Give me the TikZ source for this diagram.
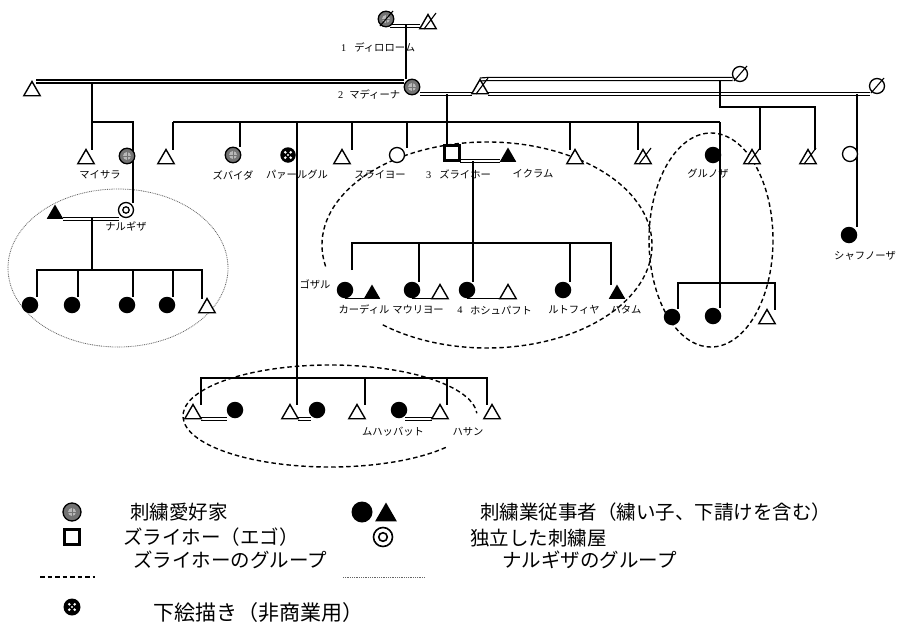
\documentclass[tikz,border=0pt]{standalone}
\usepackage{fontspec}
\setmainfont{Liberation Serif}
\newfontfamily\jp{Noto Sans CJK JP}
\usetikzlibrary{shapes.geometric,backgrounds,calc}
\begin{document}
\begin{tikzpicture}[x=1pt,y=-1pt,
  ln/.style={line width=1.4pt},
  dbl/.style={double, double distance=1.8pt, line width=1.2pt},
  grp/.style={dash pattern=on 4.5pt off 3pt, line width=1.4pt},
  ngrp/.style={dash pattern=on 0.9pt off 0.9pt, line width=0.8pt, black!60},
  slashln/.style={line width=1.1pt},
  sym/.style={inner sep=0pt, outer sep=0pt},
  fc/.style={sym, circle, fill=black, minimum size=16.5pt},
  oc/.style={sym, circle, draw, line width=1.3pt, fill=white, minimum size=15pt},
  sc/.style={sym, circle, draw, line width=1.3pt, fill=black!55, minimum size=15.5pt,
    path picture={\fill[black!28] (path picture bounding box.center) circle (4pt);
      \draw[black!55, line width=0.45pt] ($(path picture bounding box.center)+(-4.2pt,0pt)$) -- ++(8.4pt,0pt)
        ($(path picture bounding box.center)+(0pt,-4.2pt)$) -- ++(0pt,8.4pt);}},
  pc/.style={sym, circle, fill=black, minimum size=15.5pt,
    path picture={\foreach \a in {45,135,225,315}
      \fill[white] ($(path picture bounding box.center)+(\a:3.8pt)$) circle (1.45pt);
      \fill[white] (path picture bounding box.center) circle (1.1pt);}},
  dc/.style={sym, circle, draw, line width=1.3pt, fill=white, minimum size=15pt,
    path picture={\draw[line width=1.3pt] (path picture bounding box.center) circle (3.2pt);}},
  dcL/.style={sym, circle, draw, line width=1.6pt, fill=white, minimum size=19pt,
    path picture={\draw[line width=1.6pt] (path picture bounding box.center) circle (4.3pt);}},
  tri/.style={sym, regular polygon, regular polygon sides=3, minimum size=19pt},
  ot/.style={tri, draw, line width=1.4pt, fill=white},
  ft/.style={tri, fill=black},
  sq/.style={sym, rectangle, draw, line width=2.8pt, fill=white, minimum size=15pt},
  lb/.style={font=\jp\fontsize{10.3}{12}\selectfont, inner sep=0pt},
  lg/.style={font=\jp\fontsize{19.5}{23}\selectfont, inner sep=0pt, anchor=west}
]
\useasboundingbox (0,0) rectangle (905,624);

% ---------- top generations ----------
\node[sc] (dw) at (386,19) {};
\node[ot] (dm) at (428,24) {};
\node[sc] (md) at (412,87) {};
\node[ot] (h1) at (32,91) {};
\node[ot] (h2) at (480,89) {};
\node[oc] (w3) at (740,74) {};
\node[oc] (w4) at (877,86) {};
\node[lb, anchor=west] (l1) at (341,48) {{\rmfamily 1}\hspace{8pt}ディロローム};
\node[lb, anchor=west] (l2) at (338,95) {{\rmfamily 2}\hspace{6pt}マディーナ};

% ---------- children row ----------
\node[ot] (mys) at (86,159) {};
\node[sc] (sis) at (127,156) {};
\node[ot] (t1) at (166,159) {};
\node[sc] (zbd) at (233,155) {};
\node[pc] (prg) at (288,155) {};
\node[ot] (t2) at (342,159) {};
\node[oc] (sly) at (397,155) {};
\node[sq] (ego) at (452,153) {};
\node[ft] (ikr) at (508,157) {};
\node[ot] (t3) at (575,159) {};
\node[ot] (t4) at (643,159) {};
\node[fc] (grn) at (713,155) {};
\node[ot] (t5) at (752,159) {};
\node[ot] (t6) at (808,159) {};
\node[oc] (c7) at (850,154) {};
\node[fc] (shf) at (849,235) {};

\node[lb] (lmys) at (100,175) {マイサラ};
\node[lb] (lzbd) at (233,175) {ズバイダ};
\node[lb] (lprg) at (297,175) {パァールグル};
\node[lb] (lsly) at (380,175) {スライヨー};
\node[lb, anchor=west] (lego) at (426,174) {{\rmfamily 3}\hspace{8pt}ズライホー};
\node[lb] (likr) at (533,174) {イクラム};
\node[lb] (lgrn) at (708,174) {グルノザ};
\node[lb] (lshf) at (865,256) {シャフノーザ};

% ---------- Narugiza group ----------
\node[dc] (nrg) at (126,210) {};
\node[ft] (nh) at (55,214) {};
\node[lb] (lnrg) at (126,226) {ナルギザ};
\node[fc] (n1) at (30,305) {};
\node[fc] (n2) at (72,305) {};
\node[fc] (n3) at (127,305) {};
\node[fc] (n4) at (167,305) {};
\node[ot] (n5) at (207,308) {};

% ---------- Zulaikho's children ----------
\node[fc] (kdl) at (345,290) {};
\node[ft] (kdh) at (372,294) {};
\node[fc] (mwr) at (412,290) {};
\node[ot] (mwh) at (440,294) {};
\node[fc] (hsh) at (467,290) {};
\node[ot] (hsw) at (508,294) {};
\node[fc] (ltf) at (563,290) {};
\node[ft] (htm) at (617,294) {};
\node[lb] (lgzl) at (315,284) {ゴザル};
\node[lb] (lkdl) at (364,310) {カーディル};
\node[lb] (lmwr) at (418,310) {マウリヨー};
\node[lb] (l4) at (460,310) {{\rmfamily 4}};
\node[lb] (lhsh) at (501,310) {ホシュパフト};
\node[lb] (lltf) at (574,310) {ルトフィヤ};
\node[lb] (lhtm) at (626,310) {ハタム};

% ---------- Gulnoza's children ----------
\node[fc] (g1) at (672,317) {};
\node[fc] (g2) at (713,316) {};
\node[ot] (g3) at (767,319) {};

% ---------- Parvargul's children ----------
\node[ot] (p1) at (193,414) {};
\node[fc] (p1w) at (235,410) {};
\node[ot] (p2) at (290,414) {};
\node[fc] (p2w) at (317,410) {};
\node[ot] (p3) at (357,414) {};
\node[fc] (p4w) at (399,410) {};
\node[ot] (p4) at (440,414) {};
\node[ot] (p5) at (492,414) {};
\node[lb] (lp4) at (393,432) {ムハッバット};
\node[lb] (lp5) at (468,432) {ハサン};

% ---------- slashes ----------
\foreach \n in {dm,h2,t4,t5,t6} \draw[slashln] ($(\n)+(-4,5)$) -- ($(\n)+(8,-11)$);
\foreach \n in {dw,w3,w4} \draw[slashln] ($(\n)+(-6,7)$) -- ($(\n)+(7,-8)$);

% ---------- legend ----------
\node[sc, minimum size=18pt] (ls1) at (72,512) {};
\node[lg] (lt1) at (130,512) {刺繍愛好家};
\node[sq, minimum size=15pt, line width=3pt] (ls2) at (72,537) {};
\node[lg] (lt2) at (123,537) {ズライホー（エゴ）};
\node[lg] (lt3) at (133,560) {ズライホーのグループ};
\coordinate (ld1) at (40,577);
\coordinate (ld2) at (95,577);
\node[pc, minimum size=17pt] (ls4) at (72,607) {};
\node[lg, font=\jp\fontsize{21}{24}\selectfont] (lt4) at (153,613) {下絵描き（非商業用）};
\node[fc, minimum size=21pt] (ls5) at (362,512) {};
\node[ft, minimum size=25pt] (ls6) at (386,515) {};
\node[lg] (lt5) at (480,512) {刺繍業従事者（繍い子、下請けを含む）};
\node[dcL] (ls7) at (383,537) {};
\node[lg] (lt6) at (470,538) {独立した刺繍屋};
\node[lg] (lt7) at (502,560) {ナルギザのグループ};
\coordinate (ln1) at (343,577);
\coordinate (ln2) at (425,577);

\begin{pgfonlayer}{background}
\fill[white] (0,0) rectangle (905,624);

% group outlines
\draw[grp] (487,245) ++(168:165 and 103) arc [start angle=168, end angle=490, x radius=165, y radius=103];
\draw[grp] (711,240) ellipse [x radius=62, y radius=107];
\draw[grp] (330,416) ++(38:147 and 51) arc [start angle=38, end angle=357, x radius=147, y radius=51];
\draw[ngrp] (118,268) ellipse [x radius=110, y radius=79];
\draw[grp, line width=1.2pt] (ld1) -- (ld2);
\draw[ngrp] (ln1) -- (ln2);

% top marriage and descent
\coordinate (m0) at (406,25);
\draw[dbl] (dw.-60) -- (dw.-60 -| dm.corner 2);
\draw[ln] (m0) -- (m0 |- md.north);

% first marriage
\draw[dbl] ($(h1.corner 1)+(4,0)$) -- (h1.corner 1 -| md.west);
\coordinate (j1) at (92,82);
\coordinate (j1b) at (92,122);
\coordinate (j1c) at (133,122);
\draw[ln] (j1) -- (j1 |- mys.north);
\draw[ln] (j1b) -- (j1c) -- (j1c |- nrg.north);

% second marriage
\draw[dbl] (h2.corner 2) -- (h2.corner 2 -| md.east);
\coordinate (u1) at (488,79);
\draw[dbl] (h2.corner 1) -- (u1) -- (u1 -| w3.west);
\draw[dbl] (h2.corner 3) -- (h2.corner 3 -| w4.west);
\coordinate (j2) at (447,94);
\draw[ln] (j2) -- (j2 |- ego.north);
\coordinate (rowL) at (173,122);
\coordinate (rowR) at (720,122);
\draw[ln] (rowL) -- (rowR);
\draw[ln] (rowL) -- (rowL |- t1.north);
\coordinate (d2) at (240,122);
\draw[ln] (d2) -- (d2 |- zbd.north);
\coordinate (d3) at (297,122);
\coordinate (pgj) at (297,378);
\draw[ln] (d3) -- (pgj) -- (pgj |- p2.north);
\coordinate (d4) at (352,122);
\draw[ln] (d4) -- (d4 |- t2.north);
\coordinate (d5) at (407,122);
\draw[ln] (d5) -- (d5 |- sly.north);
\coordinate (d6) at (570,122);
\draw[ln] (d6) -- (d6 |- t3.north);
\coordinate (d7) at (638,122);
\draw[ln] (d7) -- (d7 |- t4.north);
\draw[ln] (rowR) -- (rowR |- g2.north);

% Gulnoza's children
\coordinate (gk1) at (678,283);
\coordinate (gk2) at (775,283);
\draw[ln] (gk1 |- g1.north) -- (gk1) -- (gk2) -- (gk2 |- g3.north);

% third marriage
\coordinate (k3a) at (720,80);
\coordinate (k3b) at (720,107);
\coordinate (k3c) at (815,107);
\coordinate (k3d) at (760,107);
\draw[ln] (k3a) -- (k3b) -- (k3c) -- (k3c |- t6.north);
\draw[ln] (k3d) -- (k3d |- t5.north);

% fourth marriage
\coordinate (k4) at (857,94);
\draw[ln] (k4) -- (k4 |- shf.north);

% Zulaikho's marriage and children
\coordinate (e1) at (460,161);
\draw[dbl] (e1) -- (e1 -| ikr.corner 2);
\coordinate (e2) at (473,161);
\draw[ln] (e2) -- (e2 |- hsh.north);
\coordinate (eL) at (352,243);
\coordinate (eLd) at (352,270);
\coordinate (eR) at (611,243);
\draw[ln] (eLd) -- (eL) -- (eR) -- (eR |- htm.north);
\coordinate (eM) at (419,243);
\draw[ln] (eM) -- (eM |- mwr.north);
\coordinate (eN) at (570,243);
\draw[ln] (eN) -- (eN |- ltf.north);
\draw[ln] (kdl.south) -- (kdl.south -| kdh.corner 2);
\draw[ln] (mwr.south) -- (mwr.south -| mwh.corner 2);
\draw[ln] (hsh.south) -- (hsh.south -| hsw.corner 2);

% Narugiza's marriage and children
\draw[dbl] (nh.corner 3) -- (nh.corner 3 -| nrg.west);
\coordinate (na) at (92,218);
\coordinate (nb) at (92,270);
\draw[ln] (na) -- (nb);
\coordinate (nL) at (37,270);
\coordinate (nR) at (202,270);
\draw[ln] (nL |- n1.north) -- (nL) -- (nR) -- (nR |- n5.north);
\coordinate (nx2) at (78,270);
\draw[ln] (nx2) -- (nx2 |- n2.north);
\coordinate (nx3) at (133,270);
\draw[ln] (nx3) -- (nx3 |- n3.north);
\coordinate (nx4) at (173,270);
\draw[ln] (nx4) -- (nx4 |- n4.north);

% Parvargul's children
\coordinate (pL) at (201,378);
\coordinate (pR) at (487,378);
\draw[ln] (pL |- p1.north) -- (pL) -- (pR) -- (pR |- p5.north);
\coordinate (px3) at (365,378);
\draw[ln] (px3) -- (px3 |- p3.north);
\coordinate (px4) at (447,378);
\draw[ln] (px4) -- (px4 |- p4.north);
\draw[dbl] (p1.corner 3) -- (p1.corner 3 -| p1w.west);
\draw[dbl] (p2.corner 3) -- (p2.corner 3 -| p2w.south west);
\draw[dbl] (p4.corner 2) -- (p4.corner 2 -| p4w.south east);
\end{pgfonlayer}
\end{tikzpicture}
\end{document}
